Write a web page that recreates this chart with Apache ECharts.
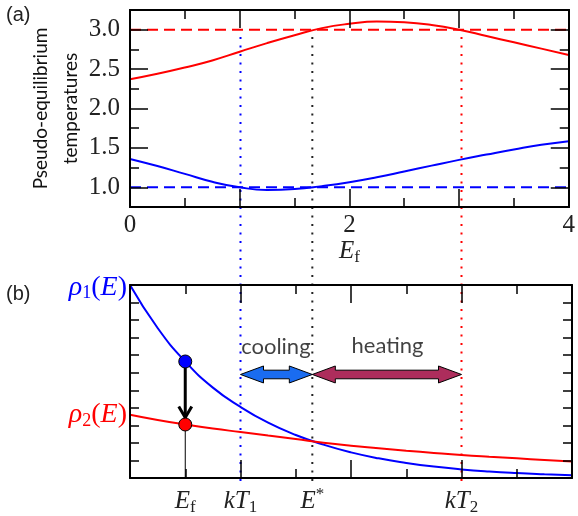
<!DOCTYPE html>
<html>
<head>
<meta charset="utf-8">
<title>Pseudo-equilibrium temperatures</title>
<style>
  html, body { margin: 0; padding: 0; background: #fff; }
  #chart { width: 578px; height: 516px; }
</style>
</head>
<body>
<div id="chart"></div>
<script src="https://cdn.jsdelivr.net/npm/echarts@6/dist/echarts.min.js"></script>
<script>
// energy grid shared by both panels (E_f in (a), E in (b))
var xValues = [0, 0.25, 0.5, 0.75, 1, 1.25, 1.5, 1.75, 2, 2.25, 2.5, 2.75, 3, 3.25, 3.5, 3.75, 4];

// panel (a): pseudo-equilibrium temperatures
var tempHot  = [2.37, 2.44, 2.52, 2.61, 2.72, 2.83, 2.93, 3.02, 3.075, 3.105, 3.095, 3.06, 3.00, 2.92, 2.84, 2.76, 2.68];
var tempCold = [1.36, 1.27, 1.17, 1.07, 1.00, 0.967, 0.978, 1.015, 1.064, 1.127, 1.20, 1.275, 1.348, 1.415, 1.48, 1.54, 1.585];
var bathHot = 3.0;
var bathCold = 1.0;
var tempTicks = [1.0, 1.5, 2.0, 2.5, 3.0];

// panel (b): densities of states
var rho1 = [11.0, 8.55, 6.64, 5.15, 4.05, 3.15, 2.45, 1.90, 1.46, 1.12, 0.86, 0.65, 0.49, 0.37, 0.28, 0.21, 0.15];
var rho2 = [3.61, 3.31, 3.05, 2.82, 2.62, 2.42, 2.22, 2.01, 1.84, 1.70, 1.56, 1.43, 1.31, 1.21, 1.12, 1.03, 0.94];
var eF = 0.5;
var rho1AtEf = 6.64;
var rho2AtEf = 3.05;

// kT1, E*, kT2
var markerX = [1.0, 1.65, 3.0];
var markerColors = ['#0000ff', '#222222', '#ff0000'];
var markerTop = 0.955; // fraction of the overlay height where the dotted guides start

// cooling / heating ranges
var rangeArrows = [[1.0, 1.65, 5.9], [1.65, 3.0, 5.9]];
var rangeColors = ['#1a6cf0', '#ad2d5c'];
var rangeTexts = [[1.32, 7.5, 'cooling'], [2.33, 7.55, 'heating']];

var bottomLabelX = [0.5, 1.0, 1.65, 3.0];
var bottomLabels = ['{i|E}{sub|f}', '{i|kT}{sub|1}', '{i|E}{sup|*}', '{i|kT}{sub|2}'];
var rhoLabelY = [10.85, 3.6];

function pairs(xs, ys) {
    return xs.map(function (x, i) { return [x, ys[i]]; });
}

var serif = 'Liberation Serif';
var mathRich = {
    i: { fontFamily: serif, fontStyle: 'italic', fontSize: 25, lineHeight: 30, color: '#222' },
    n: { fontFamily: serif, fontSize: 25, lineHeight: 30, color: '#222' },
    sub: { fontFamily: serif, fontSize: 17, lineHeight: 12, verticalAlign: 'bottom', color: '#222' },
    sup: { fontFamily: serif, fontSize: 17, lineHeight: 14, verticalAlign: 'top', color: '#222' }
};
function rhoRich(color) {
    return {
        g: { fontFamily: serif, fontStyle: 'italic', fontSize: 28, lineHeight: 30, color: color },
        i: { fontFamily: serif, fontStyle: 'italic', fontSize: 28, lineHeight: 30, color: color },
        n: { fontFamily: serif, fontSize: 28, lineHeight: 30, color: color },
        sub: { fontFamily: serif, fontSize: 18, lineHeight: 12, verticalAlign: 'bottom', color: color }
    };
}

var frameLine = { show: true, onZero: false, lineStyle: { color: '#000', width: 2 } };

function xAxisFor(grid, pos, extra) {
    var ax = {
        type: 'value', gridIndex: grid, position: pos, min: 0, max: 4, interval: 1,
        axisLine: frameLine,
        axisTick: { show: true, inside: true, length: 18, lineStyle: { color: '#000', width: 1.5 } },
        minorTick: { show: true, splitNumber: 2, length: 9, lineStyle: { color: '#000', width: 1.5 } },
        axisLabel: { show: false },
        splitLine: { show: false },
        z: 5
    };
    return Object.assign(ax, extra || {});
}

var chart = echarts.init(document.getElementById('chart'));

var b = rhoRich('#0000ff'), r = rhoRich('#ff0000');

var option = {
    animation: false,
    backgroundColor: '#fff',
    grid: [
        { left: 130, top: 10, width: 442, height: 197 },
        { left: 130, top: 285, width: 442, height: 196 },
        { left: 130, top: 10, width: 442, height: 471 }
    ],
    graphic: [
        { type: 'text', left: 6, top: 5, style: { text: '(a)', font: '20px "Liberation Sans"', fill: '#222' } },
        { type: 'text', left: 6, top: 284, style: { text: '(b)', font: '20px "Liberation Sans"', fill: '#222' } }
    ],
    xAxis: [
        xAxisFor(0, 'bottom', {
            axisLabel: {
                show: true, margin: 6, color: '#222', fontFamily: serif, fontSize: 25,
                formatter: function (v) { return v % 2 === 0 ? String(v) : ''; }
            },
            name: '{i|E}{sub|f}', nameLocation: 'middle', nameGap: 29,
            nameTextStyle: { rich: mathRich }
        }),
        xAxisFor(0, 'top'),
        xAxisFor(1, 'bottom', {
            axisLabel: {
                show: true, margin: 8, customValues: bottomLabelX,
                formatter: function (v) {
                    var k = bottomLabelX.indexOf(v);
                    return k < 0 ? '' : bottomLabels[k];
                },
                rich: mathRich
            }
        }),
        xAxisFor(1, 'top'),
        { type: 'value', gridIndex: 2, min: 0, max: 4, show: false }
    ],
    yAxis: [
        {
            type: 'value', gridIndex: 0, position: 'left', min: 0.75, max: 3.25,
            axisLine: frameLine,
            axisTick: { show: true, inside: true, length: 18, customValues: tempTicks, lineStyle: { color: '#000', width: 1.5 } },
            axisLabel: {
                show: true, margin: 10, customValues: tempTicks, color: '#222', fontFamily: serif, fontSize: 25,
                formatter: function (v) { return v.toFixed(1); }
            },
            splitLine: { show: false },
            name: 'Pseudo-equilibrium\ntemperatures', nameLocation: 'middle', nameRotate: 90, nameGap: 44,
            nameMoveOverlap: false,
            nameTextStyle: { fontFamily: 'Lato', fontSize: 19, color: '#111', lineHeight: 30 },
            z: 5
        },
        {
            type: 'value', gridIndex: 0, position: 'left', min: 0.75, max: 3.25, interval: 0.25,
            axisLine: frameLine,
            axisTick: { show: true, inside: true, length: 9, lineStyle: { color: '#000', width: 1.5 } },
            axisLabel: { show: false }, splitLine: { show: false }, z: 5
        },
        {
            type: 'value', gridIndex: 0, position: 'right', min: 0.75, max: 3.25,
            axisLine: frameLine,
            axisTick: { show: true, inside: true, length: 18, customValues: tempTicks, lineStyle: { color: '#000', width: 1.5 } },
            axisLabel: { show: false }, splitLine: { show: false }, z: 5
        },
        {
            type: 'value', gridIndex: 0, position: 'right', min: 0.75, max: 3.25, interval: 0.25,
            axisLine: frameLine,
            axisTick: { show: true, inside: true, length: 9, lineStyle: { color: '#000', width: 1.5 } },
            axisLabel: { show: false }, splitLine: { show: false }, z: 5
        },
        {
            type: 'value', gridIndex: 1, position: 'left', min: 0, max: 11, interval: 1,
            axisLine: frameLine,
            axisTick: { show: true, inside: true, length: 9, lineStyle: { color: '#000', width: 1.5 } },
            axisLabel: {
                show: true, margin: 3, customValues: rhoLabelY,
                formatter: function (v) {
                    return v > 5 ? '{bg|ρ}{bs|1}{bn|(}{bi|E}{bn|)}' : '{rg|ρ}{rs|2}{rn|(}{ri|E}{rn|)}';
                },
                rich: {
                    bg: b.g, bs: b.sub, bn: b.n, bi: b.i,
                    rg: r.g, rs: r.sub, rn: r.n, ri: r.i
                }
            },
            splitLine: { show: false }, z: 5
        },
        {
            type: 'value', gridIndex: 1, position: 'right', min: 0, max: 11, interval: 1,
            axisLine: frameLine,
            axisTick: { show: true, inside: true, length: 9, lineStyle: { color: '#000', width: 1.5 } },
            axisLabel: { show: false }, splitLine: { show: false }, z: 5
        },
        { type: 'value', gridIndex: 2, min: 0, max: 1, show: false }
    ],
    series: []
};

var S = option.series;
// panel (a)
S.push({ type: 'line', xAxisIndex: 0, yAxisIndex: 0, data: [[0, bathHot], [4, bathHot]], showSymbol: false,
    lineStyle: { color: '#ff0000', width: 2, type: [11, 6] }, z: 2 });
S.push({ type: 'line', xAxisIndex: 0, yAxisIndex: 0, data: [[0, bathCold], [4, bathCold]], showSymbol: false,
    lineStyle: { color: '#0000ff', width: 2, type: [11, 6] }, z: 2 });
S.push({ type: 'line', xAxisIndex: 0, yAxisIndex: 0, data: pairs(xValues, tempHot), smooth: true, showSymbol: false,
    lineStyle: { color: '#ff0000', width: 2 }, z: 3 });
S.push({ type: 'line', xAxisIndex: 0, yAxisIndex: 0, data: pairs(xValues, tempCold), smooth: true, showSymbol: false,
    lineStyle: { color: '#0000ff', width: 2 }, z: 3 });

// panel (b)
S.push({ type: 'line', xAxisIndex: 2, yAxisIndex: 4, data: pairs(xValues, rho1), smooth: true, showSymbol: false,
    lineStyle: { color: '#0000ff', width: 2 }, z: 3 });
S.push({ type: 'line', xAxisIndex: 2, yAxisIndex: 4, data: pairs(xValues, rho2), smooth: true, showSymbol: false,
    lineStyle: { color: '#ff0000', width: 2 }, z: 3 });
S.push({ type: 'line', xAxisIndex: 2, yAxisIndex: 4, data: [[eF, 0], [eF, rho2AtEf]], showSymbol: false,
    lineStyle: { color: '#000', width: 1 }, z: 3 });
// transition arrow rho1 -> rho2
S.push({
    type: 'custom', xAxisIndex: 2, yAxisIndex: 4, data: [[eF, rho1AtEf, rho2AtEf]], z: 4,
    renderItem: function (params, api) {
        var a = api.coord([api.value(0), api.value(1)]);
        var c = api.coord([api.value(0), api.value(2)]);
        var tipY = c[1] - 7;
        return {
            type: 'group', children: [
                { type: 'line', shape: { x1: a[0], y1: a[1] + 6, x2: a[0], y2: tipY }, style: { stroke: '#000', lineWidth: 3 } },
                { type: 'polyline', shape: { points: [[a[0] - 6.5, tipY - 11], [a[0], tipY], [a[0] + 6.5, tipY - 11]] },
                    style: { stroke: '#000', lineWidth: 3, fill: null } }
            ]
        };
    }
});
S.push({ type: 'scatter', xAxisIndex: 2, yAxisIndex: 4, data: [[eF, rho1AtEf]], symbolSize: 13,
    itemStyle: { color: '#0000ff', borderColor: '#000', borderWidth: 1, opacity: 1 }, z: 5 });
S.push({ type: 'scatter', xAxisIndex: 2, yAxisIndex: 4, data: [[eF, rho2AtEf]], symbolSize: 13,
    itemStyle: { color: '#ff0000', borderColor: '#000', borderWidth: 1, opacity: 1 }, z: 5 });
// cooling / heating double arrows
S.push({
    type: 'custom', xAxisIndex: 2, yAxisIndex: 4, data: rangeArrows, z: 4,
    renderItem: function (params, api) {
        var p1 = api.coord([api.value(0), api.value(2)]);
        var p2 = api.coord([api.value(1), api.value(2)]);
        var x1 = p1[0], x2 = p2[0], y = p1[1], hl = 23, hh = 8.5, sh = 4.3;
        return {
            type: 'polygon',
            shape: { points: [[x1, y], [x1 + hl, y - hh], [x1 + hl, y - sh], [x2 - hl, y - sh], [x2 - hl, y - hh],
                [x2, y], [x2 - hl, y + hh], [x2 - hl, y + sh], [x1 + hl, y + sh], [x1 + hl, y + hh]] },
            style: { fill: rangeColors[params.dataIndex], stroke: '#000', lineWidth: 1 }
        };
    }
});
S.push({ type: 'scatter', xAxisIndex: 2, yAxisIndex: 4, data: rangeTexts, symbolSize: 0, z: 5,
    label: { show: true, position: 'inside', color: '#111', fontFamily: 'Lato', fontSize: 22,
        formatter: function (p) { return p.data[2]; } } });

// dotted guides through both panels
markerX.forEach(function (x, i) {
    S.push({ type: 'line', xAxisIndex: 4, yAxisIndex: 6, data: [[x, 0], [x, markerTop]], showSymbol: false,
        lineStyle: { color: markerColors[i], width: 2, type: [2, 6.5] }, z: 1 });
});

chart.setOption(option);
</script>
</body>
</html>
